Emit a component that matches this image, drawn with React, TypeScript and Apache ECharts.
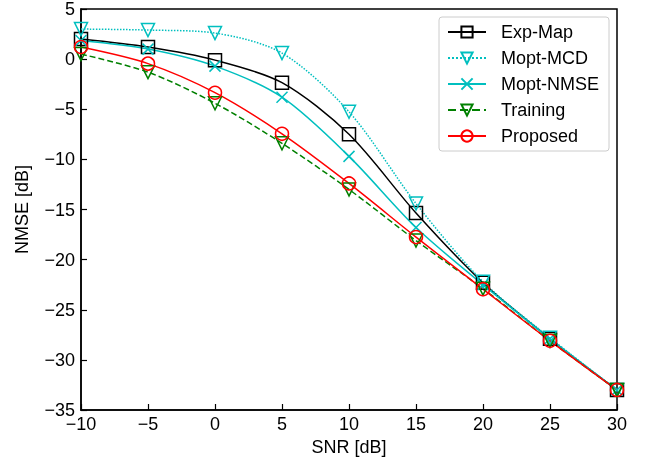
import React, { useEffect, useRef } from "react";
import * as echarts from "echarts";

const snr = [-10, -5, 0, 5, 10, 15, 20, 25, 30];
const expMap = [2.0, 1.2, -0.1, -2.35, -7.5, -15.35, -22.3, -27.9, -33.0];
const moptMCD = [3.0, 2.9, 2.6, 0.6, -5.25, -14.4, -22.2, -27.8, -33.0];
const moptNMSE = [1.85, 1.0, -0.7, -3.8, -9.7, -16.8, -22.5, -27.9, -33.0];
const training = [0.5, -1.3, -4.4, -8.4, -13.0, -18.1, -22.9, -28.1, -33.0];
const proposed = [1.2, -0.45, -3.35, -7.45, -12.4, -17.75, -22.95, -28.1, -33.0];

const xTicks = [-10, -5, 0, 5, 10, 15, 20, 25, 30];
const yTicks = [-35, -30, -25, -20, -15, -10, -5, 0, 5];

const FONT = "Liberation Sans, Arial, sans-serif";
const FS = 18;
const minus = (v: number) => String(v).replace("-", "\u2212");

export default function App() {
  const ref = useRef<HTMLDivElement>(null);
  useEffect(() => {
    if (!ref.current) return;
    const chart = echarts.init(ref.current, undefined, { renderer: "svg" });
    const mk = (
      name: string,
      data: number[],
      color: string,
      symbol: string,
      size: number,
      type: any,
      rotate = 0
    ) => ({
      name,
      type: "line",
      data: snr.map((x, i) => [x, data[i]]),
      smooth: 0.3,
      symbol,
      symbolSize: size,
      symbolRotate: rotate,
      showAllSymbol: true,
      lineStyle: { color, width: 1.5, type },
      itemStyle: { color: "rgba(0,0,0,0)", borderColor: color, borderWidth: 1.5 },
      emphasis: { disabled: true },
    });
    chart.setOption({
      animation: false,
      grid: {
        left: 81,
        right: 30,
        top: 7,
        bottom: 51,
        show: true,
        borderColor: "#000",
        borderWidth: 1.5,
        backgroundColor: "transparent",
      },
      legend: {
        orient: "vertical",
        left: 439,
        top: 17,
        padding: [6, 10, 6, 8],
        itemGap: 8,
        itemWidth: 38,
        itemHeight: 14,
        backgroundColor: "#fff",
        borderColor: "#ccc",
        borderWidth: 1,
        borderRadius: 3,
        textStyle: { fontFamily: FONT, fontSize: FS, color: "#000", padding: [0, 0, 0, 10] },
        data: ["Exp-Map", "Mopt-MCD", "Mopt-NMSE", "Training", "Proposed"],
      },
      xAxis: {
        type: "value",
        min: xTicks[0],
        max: xTicks[xTicks.length - 1],
        interval: 5,
        name: "SNR [dB]",
        nameLocation: "middle",
        nameGap: 27,
        nameTextStyle: { fontFamily: FONT, fontSize: FS, color: "#000" },
        axisLine: { onZero: false, lineStyle: { color: "#000", width: 1.5 } },
        axisTick: { inside: true, length: 6, lineStyle: { color: "#000", width: 1.2 } },
        axisLabel: {
          fontFamily: FONT,
          fontSize: FS,
          color: "#000",
          margin: 5,
          formatter: (v: number) => minus(v),
        },
        splitLine: { show: false },
      },
      yAxis: {
        type: "value",
        min: yTicks[0],
        max: yTicks[yTicks.length - 1],
        interval: 5,
        name: "NMSE [dB]",
        nameLocation: "middle",
        nameGap: 50,
        nameTextStyle: { fontFamily: FONT, fontSize: FS, color: "#000" },
        axisLine: { onZero: false, lineStyle: { color: "#000", width: 1.5 } },
        axisTick: { inside: true, length: 6, lineStyle: { color: "#000", width: 1.2 } },
        axisLabel: {
          fontFamily: FONT,
          fontSize: FS,
          color: "#000",
          margin: 6,
          formatter: (v: number) => minus(v),
        },
        splitLine: { show: false },
      },
      series: [
        mk("Exp-Map", expMap, "#000000", "rect", 13, "solid"),
        mk("Mopt-MCD", moptMCD, "#00bfbf", "triangle", 13, "dotted", 180),
        mk("Mopt-NMSE", moptNMSE, "#00bfbf", "path://M0,0L10,10M10,0L0,10", 11, "solid"),
        mk("Training", training, "#008000", "triangle", 13, "dashed", 180),
        mk("Proposed", proposed, "#ff0000", "circle", 13, "solid"),
      ],
    });
    return () => chart.dispose();
  }, []);
  return (
    <div
      ref={ref}
      style={{ position: "fixed", left: 0, top: 0, width: 647, height: 461 }}
    />
  );
}
